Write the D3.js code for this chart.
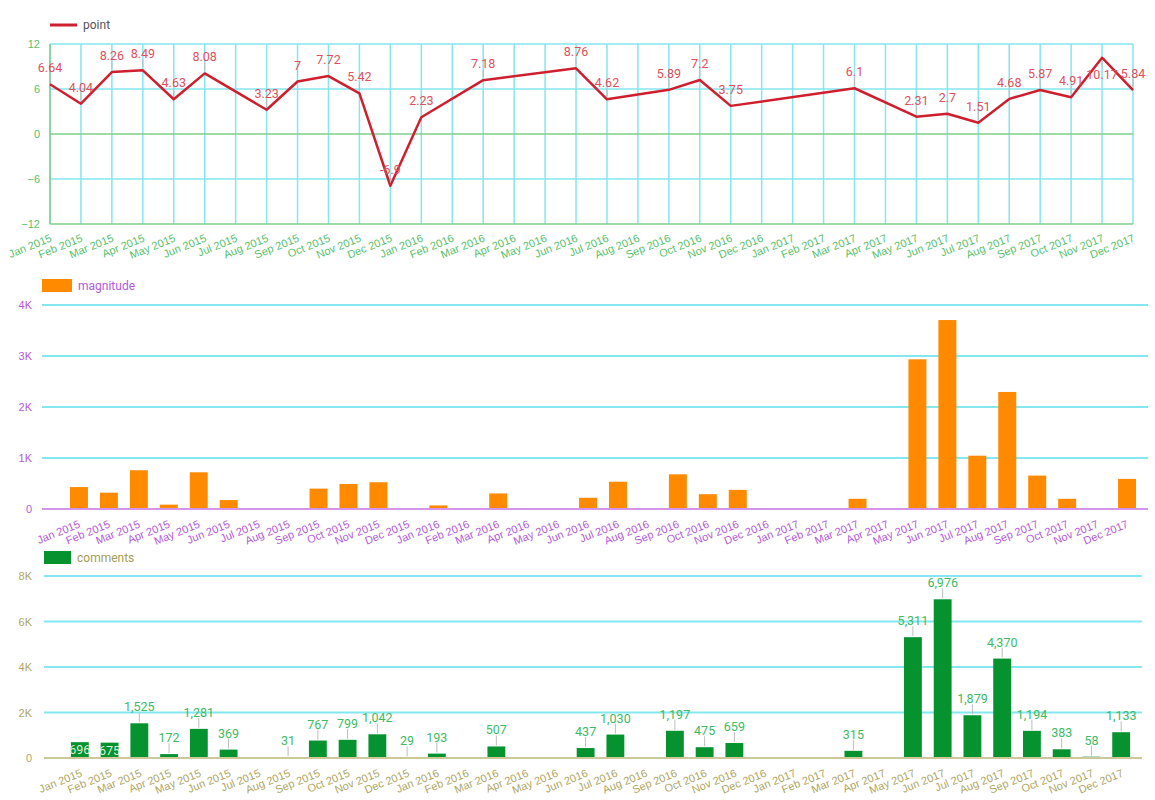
<!DOCTYPE html>
<html>
<head>
<meta charset="utf-8">
<script src="https://cdn.jsdelivr.net/npm/d3@7"></script>
<style>
  body { margin: 0; background: #fff; }
  svg { font-family: Roboto, "Noto Sans", sans-serif; }
</style>
</head>
<body>
<script>
var months = [
  'Jan 2015', 'Feb 2015', 'Mar 2015', 'Apr 2015', 'May 2015', 'Jun 2015',
  'Jul 2015', 'Aug 2015', 'Sep 2015', 'Oct 2015', 'Nov 2015', 'Dec 2015',
  'Jan 2016', 'Feb 2016', 'Mar 2016', 'Apr 2016', 'May 2016', 'Jun 2016',
  'Jul 2016', 'Aug 2016', 'Sep 2016', 'Oct 2016', 'Nov 2016', 'Dec 2016',
  'Jan 2017', 'Feb 2017', 'Mar 2017', 'Apr 2017', 'May 2017', 'Jun 2017',
  'Jul 2017', 'Aug 2017', 'Sep 2017', 'Oct 2017', 'Nov 2017', 'Dec 2017'
];

// null = no value for that month
var pointValues = [
  6.64, 4.04, 8.26, 8.49, 4.63, 8.08, null, 3.23, 7, 7.72, 5.42, -6.9,
  2.23, null, 7.18, null, null, 8.76, 4.62, null, 5.89, 7.2, 3.75, null,
  null, null, 6.1, null, 2.31, 2.7, 1.51, 4.68, 5.87, 4.91, 10.17, 5.84
];

var magnitudeValues = [
  430, 320, 760, 85, 720, 175, 0, 0, 400, 490, 525, 0,
  70, 0, 305, 0, 0, 220, 535, 0, 680, 290, 375, 0,
  0, 0, 200, 0, 2935, 3705, 1045, 2295, 655, 200, 20, 590
];

var commentValues = [
  696, 675, 1525, 172, 1281, 369, null, 31, 767, 799, 1042, 29,
  193, null, 507, null, null, 437, 1030, null, 1197, 475, 659, null,
  null, null, 315, null, 5311, 6976, 1879, 4370, 1194, 383, 58, 1133
];

var pointTicks = [-12, -6, 0, 6, 12];
var magnitudeTicks = [0, 1000, 2000, 3000, 4000];
var commentTicks = [0, 2000, 4000, 6000, 8000];

// labels that the original chart moved
var pointLabelsBelow = ['Nov 2017'];
var commentLabelsInside = ['Jan 2015', 'Feb 2015'];

var gridColor = '#84e6ef';
var leaderColor = '#bdbdbd';

var svg = d3.select('body').append('svg')
  .attr('width', 1155)
  .attr('height', 800);

function kFormat(d) { return d === 0 ? '0' : (d / 1000) + 'K'; }

function styleXLabels(g, color, shift) {
  g.select('.domain').remove();
  g.selectAll('.tick line').remove();
  g.selectAll('.tick text')
    .attr('y', 0)
    .attr('dy', null)
    .attr('text-anchor', 'end')
    .attr('fill', color)
    .attr('font-size', 11)
    .attr('transform', 'translate(' + shift[0] + ',' + shift[1] + ') rotate(-22)');
}

function styleYLabels(g, color) {
  g.select('.domain').remove();
  g.selectAll('.tick line').remove();
  g.selectAll('.tick text')
    .attr('fill', color)
    .attr('font-size', 11);
}

// ---------- top: point line ----------
(function () {
  var left = 50, right = 1133, top = 44, bottom = 224;
  var green = '#58bf6c';

  var x = d3.scalePoint().domain(months).range([left, right]);
  var y = d3.scaleLinear().domain([-12, 12]).range([bottom, top]);

  var g = svg.append('g');

  // vertical grid
  g.selectAll('.vgrid')
    .data(months)
    .enter()
    .append('line')
      .attr('x1', function (d) { return x(d); })
      .attr('x2', function (d) { return x(d); })
      .attr('y1', top)
      .attr('y2', bottom)
      .attr('stroke', gridColor)
      .attr('stroke-width', 1.5);

  // horizontal grid
  g.selectAll('.hgrid')
    .data(pointTicks)
    .enter()
    .append('line')
      .attr('x1', left)
      .attr('x2', right)
      .attr('y1', function (d) { return y(d); })
      .attr('y2', function (d) { return y(d); })
      .attr('stroke', function (d) { return (d === 0 || d === -12) ? '#7fcf8a' : gridColor; })
      .attr('stroke-width', 1.5);

  g.append('line')
    .attr('x1', left).attr('x2', left)
    .attr('y1', top).attr('y2', bottom)
    .attr('stroke', '#7fcf8a')
    .attr('stroke-width', 1.5);

  g.append('g')
    .attr('transform', 'translate(' + (left - 6) + ',0)')
    .call(d3.axisLeft(y).tickValues(pointTicks).tickSize(0).tickPadding(4))
    .call(function (a) { styleYLabels(a, green); });

  g.append('g')
    .attr('transform', 'translate(0,' + bottom + ')')
    .call(d3.axisBottom(x).tickSize(0))
    .call(function (a) { styleXLabels(a, green, [2, 17]); });

  var pts = months.map(function (m, i) { return { label: m, value: pointValues[i] }; })
    .filter(function (d) { return d.value !== null; });

  var line = d3.line()
    .x(function (d) { return x(d.label); })
    .y(function (d) { return y(d.value); });

  g.append('path')
    .datum(pts)
    .attr('d', line)
    .attr('fill', 'none')
    .attr('stroke', '#cf1f2e')
    .attr('stroke-width', 2.5)
    .attr('stroke-linejoin', 'round');

  var lab = g.selectAll('.plab')
    .data(pts)
    .enter()
    .append('g');

  lab.append('line')
    .attr('x1', function (d) { return x(d.label); })
    .attr('x2', function (d) { return x(d.label); })
    .attr('y1', function (d) {
      var below = pointLabelsBelow.indexOf(d.label) >= 0;
      return y(d.value) + (below ? 3 : -3);
    })
    .attr('y2', function (d) {
      var below = pointLabelsBelow.indexOf(d.label) >= 0;
      return y(d.value) + (below ? 10 : -11);
    })
    .attr('stroke', leaderColor)
    .attr('stroke-width', 1);

  lab.append('text')
    .attr('x', function (d) { return x(d.label); })
    .attr('y', function (d) {
      var below = pointLabelsBelow.indexOf(d.label) >= 0;
      return y(d.value) + (below ? 21 : -12);
    })
    .attr('text-anchor', 'middle')
    .attr('font-size', 12.5)
    .attr('fill', '#e0505c')
    .text(function (d) { return d.value; });

  // legend
  svg.append('line')
    .attr('x1', 50).attr('x2', 77)
    .attr('y1', 25).attr('y2', 25)
    .attr('stroke', '#cf1f2e')
    .attr('stroke-width', 3);
  svg.append('text')
    .attr('x', 83).attr('y', 29)
    .attr('font-size', 12)
    .attr('fill', '#555')
    .text('point');
})();

// ---------- middle: magnitude bars ----------
(function () {
  var left = 42, right = 1148, top = 305, bottom = 509;
  var purple = '#b35ad9';

  var x = d3.scaleBand().domain(months).range([left + 16, right]).padding(0.4);
  var y = d3.scaleLinear().domain([0, 4000]).range([bottom, top]);

  var g = svg.append('g');

  g.selectAll('.hgrid')
    .data(magnitudeTicks.filter(function (d) { return d > 0; }))
    .enter()
    .append('line')
      .attr('x1', left)
      .attr('x2', right)
      .attr('y1', function (d) { return y(d); })
      .attr('y2', function (d) { return y(d); })
      .attr('stroke', gridColor)
      .attr('stroke-width', 2);

  g.append('g')
    .attr('transform', 'translate(' + (left - 10) + ',0)')
    .call(d3.axisLeft(y).tickValues(magnitudeTicks).tickFormat(kFormat).tickSize(0).tickPadding(0))
    .call(function (a) { styleYLabels(a, purple); });

  g.selectAll('.bar')
    .data(months.map(function (m, i) { return { label: m, value: magnitudeValues[i] }; }))
    .enter()
    .append('rect')
      .attr('x', function (d) { return x(d.label); })
      .attr('width', x.bandwidth())
      .attr('y', function (d) { return y(d.value); })
      .attr('height', function (d) { return y(0) - y(d.value); })
      .attr('fill', '#ff8a00');

  g.append('line')
    .attr('x1', left).attr('x2', right)
    .attr('y1', bottom).attr('y2', bottom)
    .attr('stroke', '#d394ea')
    .attr('stroke-width', 2);

  g.append('g')
    .attr('transform', 'translate(0,' + bottom + ')')
    .call(d3.axisBottom(x).tickSize(0))
    .call(function (a) { styleXLabels(a, purple, [2, 18]); });

  // legend
  svg.append('rect')
    .attr('x', 42).attr('y', 279)
    .attr('width', 30).attr('height', 13)
    .attr('fill', '#ff8a00');
  svg.append('text')
    .attr('x', 78).attr('y', 290)
    .attr('font-size', 12)
    .attr('fill', purple)
    .text('magnitude');
})();

// ---------- bottom: comment bars ----------
(function () {
  var left = 44, right = 1142, top = 576, bottom = 758;
  var olive = '#aea664';
  var fmt = d3.format(',');

  var x = d3.scaleBand().domain(months).range([left + 15, right]).padding(0.4);
  var y = d3.scaleLinear().domain([0, 8000]).range([bottom, top]);

  var g = svg.append('g');

  g.selectAll('.hgrid')
    .data(commentTicks.filter(function (d) { return d > 0; }))
    .enter()
    .append('line')
      .attr('x1', left)
      .attr('x2', right)
      .attr('y1', function (d) { return y(d); })
      .attr('y2', function (d) { return y(d); })
      .attr('stroke', gridColor)
      .attr('stroke-width', 2);

  g.append('g')
    .attr('transform', 'translate(' + (left - 12) + ',0)')
    .call(d3.axisLeft(y).tickValues(commentTicks).tickFormat(kFormat).tickSize(0).tickPadding(0))
    .call(function (a) { styleYLabels(a, olive); });

  var data = months.map(function (m, i) { return { label: m, value: commentValues[i] }; })
    .filter(function (d) { return d.value !== null; });

  g.selectAll('.bar')
    .data(data)
    .enter()
    .append('rect')
      .attr('x', function (d) { return x(d.label); })
      .attr('width', x.bandwidth())
      .attr('y', function (d) { return y(d.value); })
      .attr('height', function (d) { return y(0) - y(d.value); })
      .attr('fill', '#05922f');

  g.append('line')
    .attr('x1', left).attr('x2', right)
    .attr('y1', bottom).attr('y2', bottom)
    .attr('stroke', '#cdc897')
    .attr('stroke-width', 2);

  var outside = data.filter(function (d) { return commentLabelsInside.indexOf(d.label) < 0; });
  var inside = data.filter(function (d) { return commentLabelsInside.indexOf(d.label) >= 0; });

  g.selectAll('.leader')
    .data(outside)
    .enter()
    .append('line')
      .attr('x1', function (d) { return x(d.label) + x.bandwidth() / 2; })
      .attr('x2', function (d) { return x(d.label) + x.bandwidth() / 2; })
      .attr('y1', function (d) { return y(d.value) - 1; })
      .attr('y2', function (d) { return y(d.value) - 11; })
      .attr('stroke', leaderColor)
      .attr('stroke-width', 1);

  g.selectAll('.vlab')
    .data(outside)
    .enter()
    .append('text')
      .attr('x', function (d) { return x(d.label) + x.bandwidth() / 2; })
      .attr('y', function (d) { return y(d.value) - 12; })
      .attr('text-anchor', 'middle')
      .attr('font-size', 12.5)
      .attr('fill', '#3dbb63')
      .text(function (d) { return fmt(d.value); });

  g.selectAll('.ilab')
    .data(inside)
    .enter()
    .append('text')
      .attr('x', function (d) { return x(d.label) + x.bandwidth() / 2; })
      .attr('y', function (d) { return y(d.value) + 12; })
      .attr('text-anchor', 'middle')
      .attr('font-size', 12.5)
      .attr('fill', '#d8f0dc')
      .text(function (d) { return fmt(d.value); });

  g.append('g')
    .attr('transform', 'translate(0,' + bottom + ')')
    .call(d3.axisBottom(x).tickSize(0))
    .call(function (a) { styleXLabels(a, olive, [3, 18]); });

  // legend
  svg.append('rect')
    .attr('x', 44).attr('y', 551)
    .attr('width', 27).attr('height', 13)
    .attr('fill', '#05922f');
  svg.append('text')
    .attr('x', 77).attr('y', 562)
    .attr('font-size', 12)
    .attr('fill', '#a59d55')
    .text('comments');
})();
</script>
</body>
</html>
